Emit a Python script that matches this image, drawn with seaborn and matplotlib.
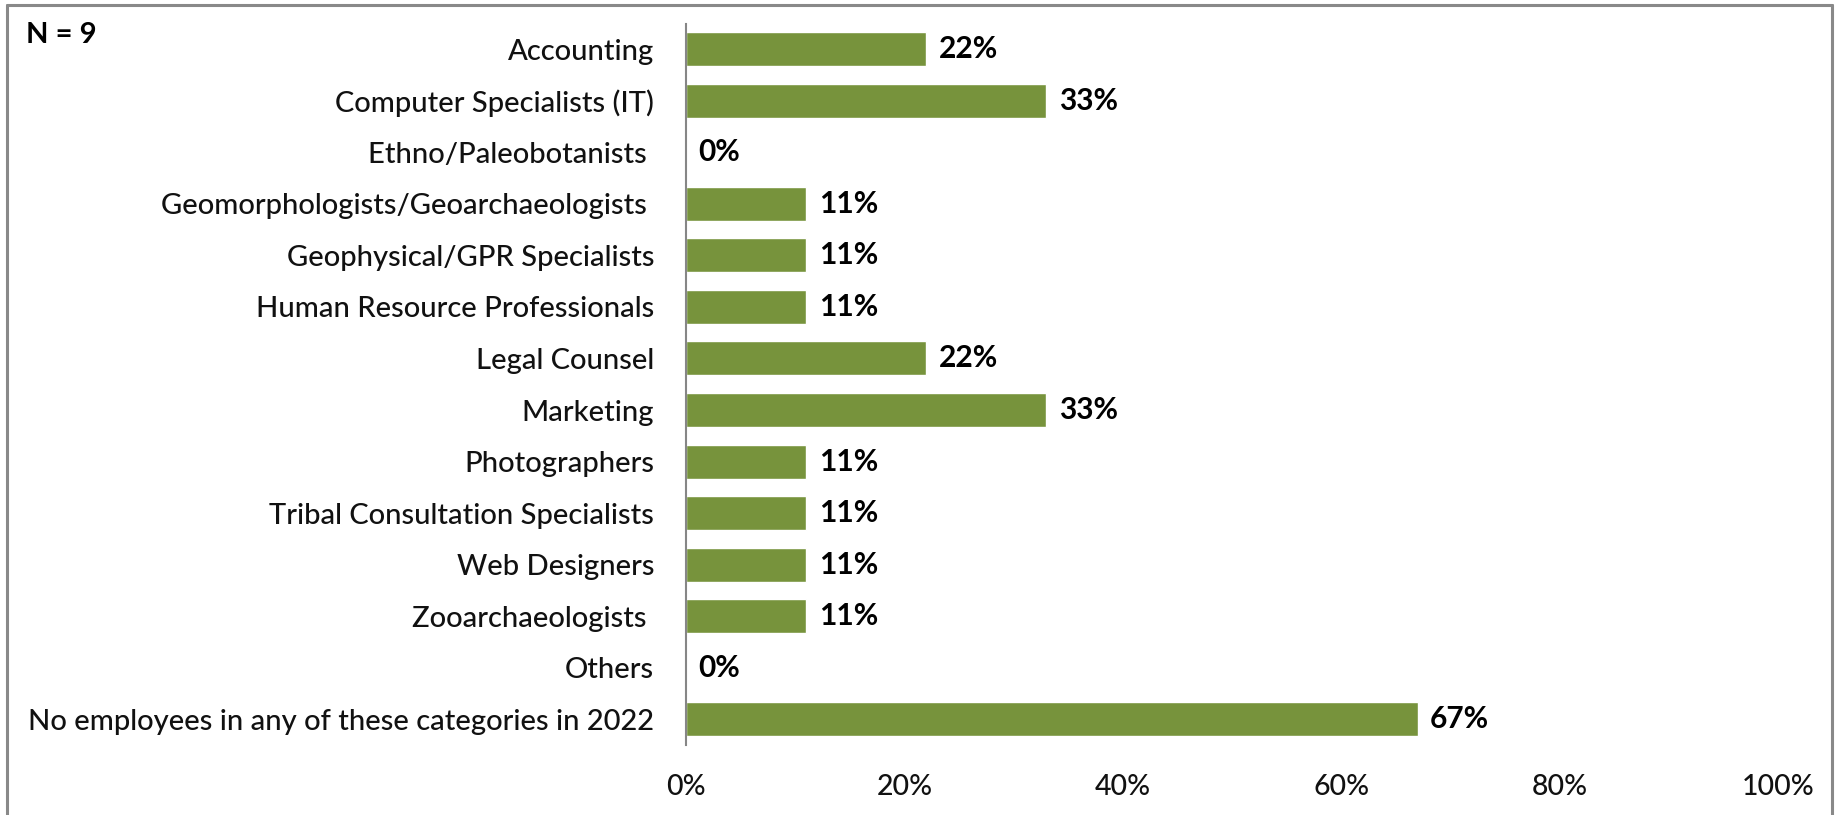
import matplotlib
matplotlib.use("Agg")
import matplotlib.pyplot as plt
import seaborn as sns
import pandas as pd
from matplotlib.lines import Line2D

categories = [
    "Accounting",
    "Computer Specialists (IT)",
    "Ethno/Paleobotanists ",
    "Geomorphologists/Geoarchaeologists ",
    "Geophysical/GPR Specialists",
    "Human Resource Professionals",
    "Legal Counsel",
    "Marketing",
    "Photographers",
    "Tribal Consultation Specialists",
    "Web Designers",
    "Zooarchaeologists ",
    "Others",
    "No employees in any of these categories in 2022",
]
percent = [22, 33, 0, 11, 11, 11, 22, 33, 11, 11, 11, 11, 0, 67]
x_ticks = [0, 20, 40, 60, 80, 100]
x_tick_labels = ["0%", "20%", "40%", "60%", "80%", "100%"]
sample_note = "N = 9"

df = pd.DataFrame({"category": categories, "percent": percent})

sns.set_theme(style="white")
plt.rcParams["font.family"] = ["Lato", "DejaVu Sans"]

W, H = 1837, 815
fig = plt.figure(figsize=(W / 100, H / 100), dpi=100)
ax = fig.add_axes([686 / W, 1 - 745 / H, (1778 - 686) / W, (745 - 23.5) / H])

sns.barplot(data=df, x="percent", y="category", orient="h", color="#77933C",
            saturation=1, width=0.66, ax=ax)

ax.set_xlim(0, 100)
ax.set_xticks(x_ticks)
ax.set_xticklabels(x_tick_labels)
ax.set_xlabel("")
ax.set_ylabel("")
ax.tick_params(axis="x", length=0, pad=21, labelsize=20.5, colors="#111111")
ax.tick_params(axis="y", length=0, pad=23, labelsize=21, colors="#111111")
for lbl in ax.get_xticklabels() + ax.get_yticklabels():
    lbl.set_fontweight("medium")

for side in ["top", "right", "bottom"]:
    ax.spines[side].set_visible(False)
ax.spines["left"].set_color("#868686")
ax.spines["left"].set_linewidth(1.5)

for container in ax.containers:
    ax.bar_label(container, labels=[f"{v:.0f}%" for v in df["percent"]],
                 padding=9, fontsize=21.5, fontweight="bold", color="black")

fig.text(26 / W, 1 - 35 / H, sample_note, fontsize=21, fontweight="bold",
         ha="left", va="center", color="black")

# outer chart border (left, top, right)
border_kw = dict(color="#898989", linewidth=2.2, transform=fig.transFigure)
fig.add_artist(Line2D([7 / W, 7 / W], [0, 1 - 5 / H], **border_kw))
fig.add_artist(Line2D([7 / W, 1832 / W], [1 - 5 / H, 1 - 5 / H], **border_kw))
fig.add_artist(Line2D([1832 / W, 1832 / W], [0, 1 - 5 / H], **border_kw))

fig.savefig("out.png", dpi=100, facecolor="white")
